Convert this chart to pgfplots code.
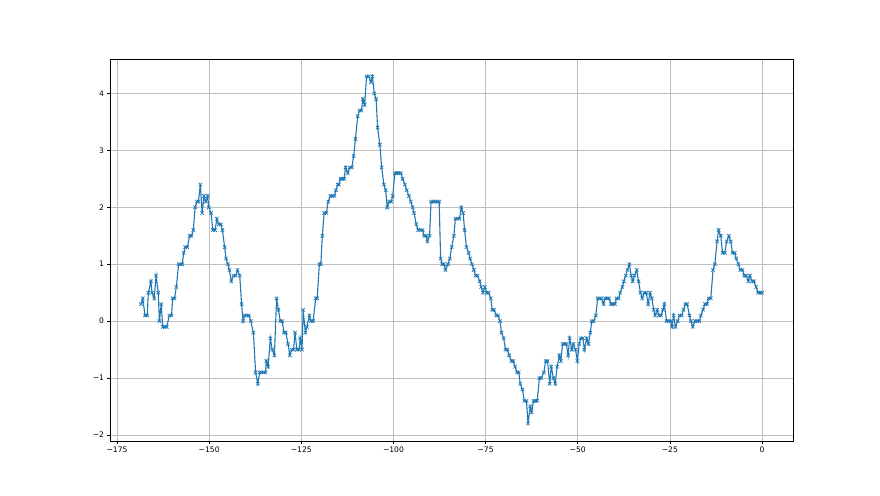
\documentclass[border=0pt]{standalone}
\usepackage{fontspec}
\setmainfont{DejaVu Sans}
\usepackage{pgfplots}
\pgfplotsset{compat=1.18}
\definecolor{tabblue}{RGB}{31,119,180}
\definecolor{gridgray}{RGB}{190,190,190}
\begin{document}
\fontsize{7.6}{9}\selectfont
\begin{tikzpicture}[x=1pt,y=1pt]
\path[use as bounding box] (0,0) rectangle (880,495);
\begin{axis}[
  at={(110pt,54pt)}, anchor=south west,
  scale only axis, width=683pt, height=382pt,
  xmin=-176.9, xmax=8.4, ymin=-2.105, ymax=4.605,
  xtick={-175,-150,-125,-100,-75,-50,-25,0},
  xticklabels={−175,−150,−125,−100,−75,−50,−25,0},
  ytick={-2,-1,0,1,2,3,4},
  yticklabels={−2,−1,0,1,2,3,4},
  tick align=outside, tick pos=left,
  major tick length=2.7pt,
  tick style={black, line width=0.6pt},
  xticklabel style={yshift=-0.5pt},
  yticklabel style={xshift=-0.5pt},
  grid=major,
  major grid style={gridgray, line width=0.55pt},
  axis line style={black, line width=0.6pt},
  every tick label/.append style={font=\fontsize{7.6}{9}\selectfont},
]
\addplot[tabblue, line width=1.1pt, mark=x, mark size=2.4pt,
  mark options={line width=0.75pt}] table {
x y
-168.5 0.3
-168.0 0.4
-167.4 0.1
-166.8 0.1
-166.5 0.5
-165.8 0.7
-165.5 0.5
-164.9 0.4
-164.4 0.8
-163.8 0.5
-163.5 0.0
-163.0 0.3
-162.6 -0.1
-162.0 -0.1
-161.5 -0.1
-160.8 0.1
-160.2 0.1
-159.9 0.4
-159.4 0.4
-158.9 0.6
-158.3 1.0
-157.8 1.0
-157.3 1.0
-156.9 1.2
-156.5 1.3
-155.9 1.3
-155.3 1.5
-154.8 1.5
-154.3 1.6
-153.8 2.0
-153.3 2.1
-152.9 2.1
-152.4 2.4
-151.9 1.9
-151.4 2.2
-150.9 2.1
-150.4 2.2
-150.1 2.0
-149.5 1.9
-149.0 1.6
-148.4 1.6
-147.9 1.8
-147.4 1.7
-146.8 1.7
-146.4 1.6
-145.8 1.3
-145.4 1.1
-144.9 1.0
-144.5 0.9
-144.0 0.7
-143.4 0.8
-142.8 0.8
-142.3 0.9
-141.7 0.8
-141.2 0.3
-140.8 0.0
-140.4 0.1
-139.8 0.1
-139.2 0.1
-138.7 0.0
-138.0 -0.2
-137.4 -0.9
-136.8 -1.1
-136.3 -0.9
-135.8 -0.9
-135.2 -0.9
-134.7 -0.9
-134.5 -0.7
-134.0 -0.8
-133.4 -0.3
-132.9 -0.5
-132.3 -0.6
-131.7 0.4
-131.2 0.2
-130.7 0.0
-130.2 0.0
-129.7 -0.2
-129.2 -0.2
-128.6 -0.4
-128.1 -0.6
-127.6 -0.5
-127.1 -0.5
-126.7 -0.2
-126.2 -0.5
-125.6 -0.5
-125.3 -0.3
-124.8 -0.5
-124.5 0.2
-123.9 -0.2
-123.5 -0.1
-122.8 0.1
-122.4 0.0
-121.8 0.0
-121.1 0.4
-120.7 0.4
-120.1 1.0
-119.7 1.0
-119.3 1.5
-118.8 1.9
-118.2 1.9
-117.7 2.1
-117.1 2.2
-116.6 2.2
-116.0 2.2
-115.6 2.3
-115.1 2.4
-114.8 2.4
-114.4 2.5
-113.9 2.5
-113.4 2.5
-113.0 2.7
-112.4 2.6
-111.9 2.7
-111.3 2.7
-110.8 2.9
-110.3 3.2
-109.7 3.6
-109.2 3.7
-108.7 3.7
-108.3 3.9
-107.8 3.8
-107.3 4.3
-106.7 4.3
-106.1 4.2
-105.7 4.3
-105.2 4.0
-104.7 3.9
-104.3 3.4
-103.7 3.1
-103.2 2.7
-102.6 2.4
-102.1 2.3
-101.7 2.0
-101.2 2.1
-100.6 2.1
-100.2 2.2
-99.6 2.6
-99.1 2.6
-98.6 2.6
-98.0 2.6
-97.5 2.5
-96.9 2.4
-96.4 2.3
-95.8 2.2
-95.3 2.1
-94.8 2.0
-94.4 1.9
-93.8 1.7
-93.3 1.6
-92.7 1.6
-92.1 1.6
-91.7 1.5
-91.1 1.5
-90.8 1.4
-90.2 1.5
-89.8 2.1
-89.2 2.1
-88.7 2.1
-88.1 2.1
-87.6 2.1
-87.2 1.1
-86.8 1.0
-86.3 1.0
-85.9 0.9
-85.2 1.0
-84.7 1.1
-84.2 1.3
-83.6 1.5
-83.2 1.8
-82.7 1.8
-82.1 1.8
-81.6 2.0
-81.1 1.9
-80.7 1.6
-80.2 1.3
-79.6 1.2
-79.2 1.1
-78.7 1.0
-78.2 0.9
-77.7 0.8
-77.2 0.8
-76.6 0.7
-76.2 0.6
-75.7 0.5
-75.2 0.6
-74.7 0.5
-74.2 0.5
-73.6 0.4
-73.2 0.2
-72.7 0.2
-72.1 0.1
-71.6 0.1
-71.1 0.0
-70.7 -0.2
-70.1 -0.3
-69.6 -0.5
-69.1 -0.5
-68.6 -0.6
-68.0 -0.7
-67.5 -0.7
-67.0 -0.8
-66.5 -0.9
-66.0 -0.9
-65.6 -1.1
-65.0 -1.2
-64.5 -1.4
-63.9 -1.4
-63.5 -1.8
-62.9 -1.5
-62.5 -1.6
-62.0 -1.4
-61.5 -1.4
-61.0 -1.4
-60.4 -1.0
-59.9 -1.0
-59.2 -0.9
-58.7 -0.7
-58.2 -0.7
-57.6 -1.1
-57.2 -0.8
-56.6 -1.0
-56.1 -1.1
-55.6 -0.8
-55.0 -0.6
-54.6 -0.7
-54.1 -0.4
-53.6 -0.4
-53.1 -0.4
-52.6 -0.6
-52.2 -0.3
-51.6 -0.5
-51.2 -0.4
-50.6 -0.5
-50.1 -0.7
-49.6 -0.4
-49.2 -0.3
-48.6 -0.3
-48.2 -0.5
-47.6 -0.3
-47.1 -0.4
-46.6 -0.2
-46.2 0.0
-45.7 0.0
-45.1 0.1
-44.6 0.4
-44.1 0.4
-43.6 0.4
-43.0 0.3
-42.6 0.4
-42.0 0.4
-41.5 0.4
-41.0 0.3
-40.5 0.3
-39.9 0.3
-39.5 0.4
-38.9 0.4
-38.5 0.5
-37.9 0.6
-37.5 0.7
-37.0 0.8
-36.5 0.9
-36.0 1.0
-35.5 0.8
-35.1 0.7
-34.6 0.8
-34.0 0.9
-33.5 0.7
-33.0 0.5
-32.5 0.4
-32.0 0.5
-31.4 0.5
-30.9 0.3
-30.4 0.5
-29.9 0.4
-29.4 0.2
-29.0 0.1
-28.4 0.2
-28.0 0.1
-27.4 0.1
-26.9 0.2
-26.5 0.3
-25.9 0.0
-25.3 0.0
-24.8 0.0
-24.4 -0.1
-24.0 0.1
-23.5 -0.1
-22.9 0.0
-22.4 0.1
-21.8 0.1
-21.3 0.2
-20.8 0.3
-20.3 0.3
-19.7 0.1
-19.3 0.0
-18.8 -0.1
-18.2 0.0
-17.6 0.0
-17.0 0.0
-16.6 0.1
-16.0 0.2
-15.5 0.3
-14.9 0.3
-14.5 0.4
-13.9 0.4
-13.3 0.9
-12.8 1.0
-12.2 1.4
-11.8 1.6
-11.2 1.5
-10.7 1.2
-10.1 1.2
-9.6 1.4
-9.0 1.5
-8.5 1.4
-8.0 1.2
-7.4 1.2
-7.0 1.1
-6.4 1.0
-5.9 0.9
-5.3 0.9
-4.8 0.8
-4.3 0.8
-3.7 0.7
-3.3 0.8
-2.7 0.7
-2.2 0.7
-1.6 0.6
-1.1 0.5
-0.5 0.5
0.0 0.5
};
\end{axis}
\end{tikzpicture}
\end{document}
